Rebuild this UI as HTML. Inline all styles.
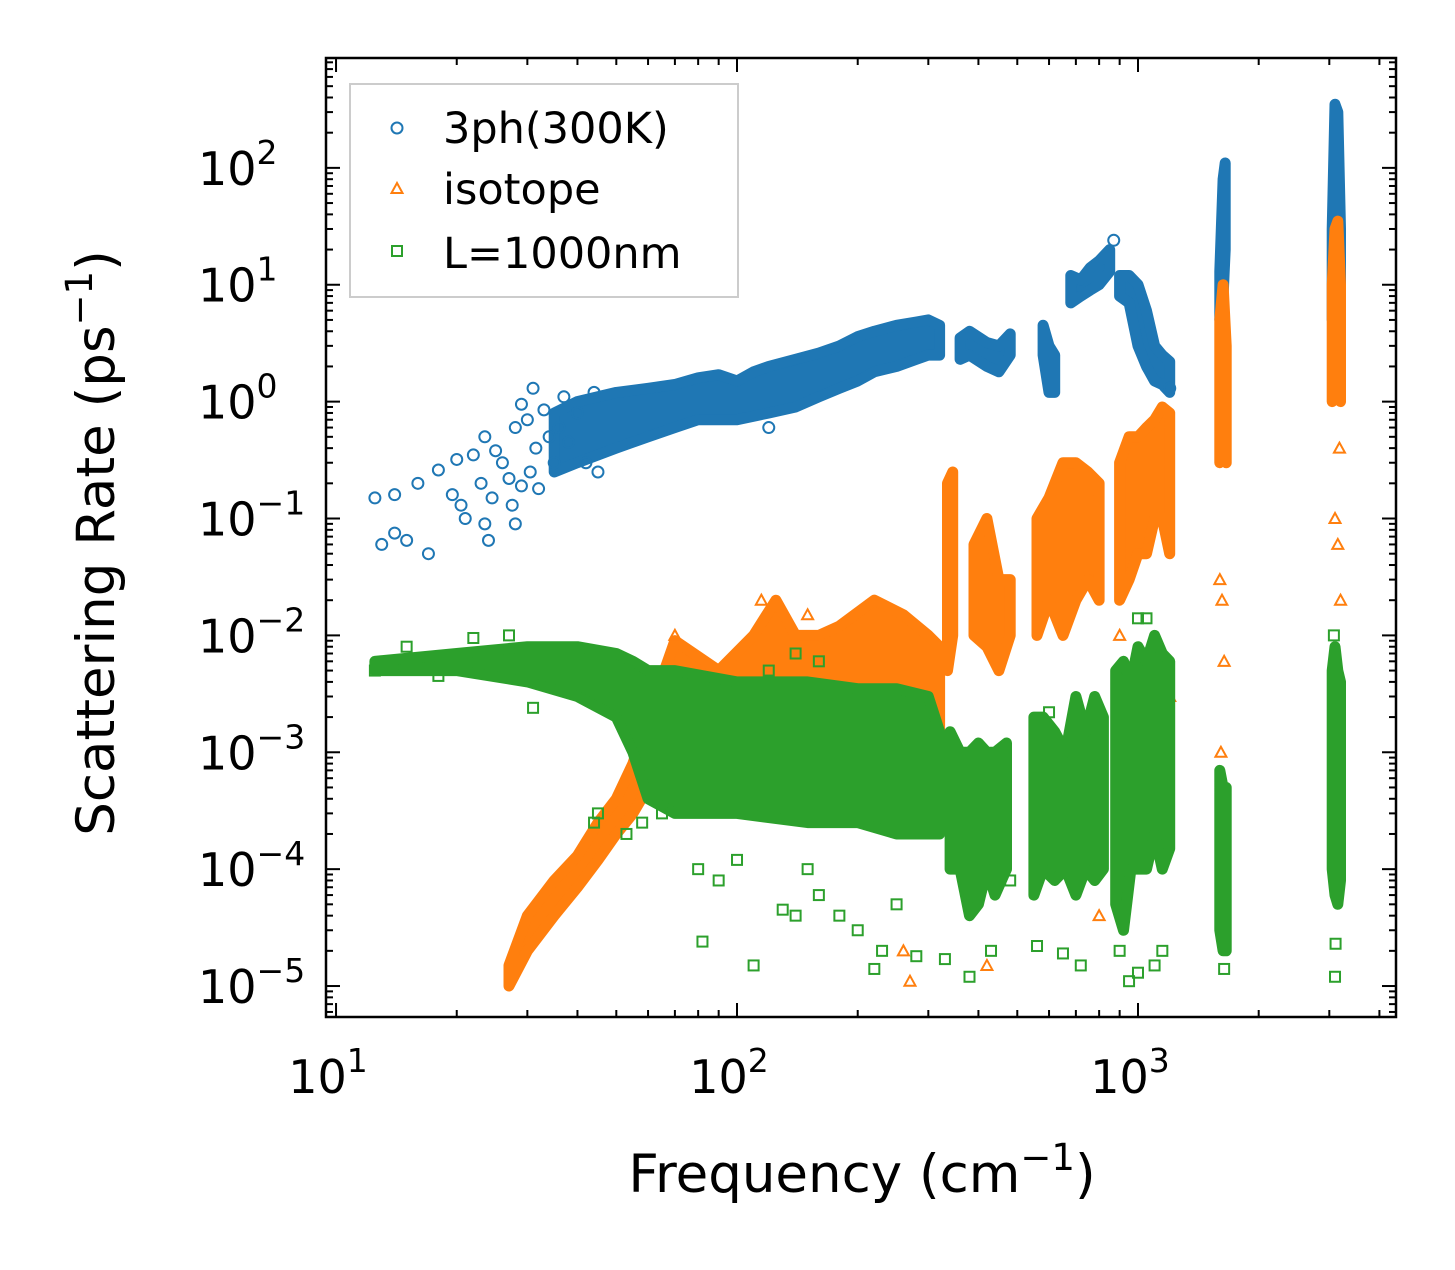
<!DOCTYPE html>
<html><head><meta charset="utf-8"><style>
body{margin:0;background:#fff;}
svg text{font-family:"DejaVu Sans","Liberation Sans",sans-serif;fill:#000;}
</style></head><body>
<svg id="chart" width="1455" height="1265" viewBox="0 0 1455 1265" xmlns="http://www.w3.org/2000/svg">
<rect width="1455" height="1265" fill="#fff"/>
<g id="series"></g>
<g id="axes"></g>
<g id="legend">
<rect x="350" y="84" width="388" height="213" fill="#fff" fill-opacity="0.8" stroke="#ccc" stroke-width="2"/>
<circle cx="397" cy="128" r="5.5" fill="none" stroke="#1f77b4" stroke-width="2"/>
<text x="443" y="143" font-size="43">3ph(300K)</text>
<polygon points="397,183 391.5,193 402.5,193" fill="none" stroke="#ff7f0e" stroke-width="2"/>
<text x="443" y="204" font-size="43">isotope</text>
<rect x="392" y="246" width="10" height="10" fill="none" stroke="#2ca02c" stroke-width="2"/>
<text x="443" y="268" font-size="43">L=1000nm</text>
</g>
</svg>
<script>
const xDomain=[Math.log10(9.44),Math.log10(4400)];
const yDomain=[-5.265,2.94];
const xTicks=[1,2,3];
const yTicks=[-5,-4,-3,-2,-1,0,1,2];
const xTickLabels=["10","10","10"];
const yTickLabels=["10","10","10","10","10","10","10","10"];

const phSegments=[
 [[35,0.25,0.8],[40,0.3,1.0],[50,0.4,1.2],[60,0.5,1.3],[70,0.6,1.4],[80,0.7,1.6],[90,0.7,1.7],[100,0.7,1.5],[110,0.75,1.8],[120,0.8,2],[140,0.9,2.3],[160,1.1,2.6],[180,1.3,3],[200,1.5,3.6],[220,1.8,4],[250,2,4.5],[280,2.3,4.8],[300,2.5,5],[320,2.5,4.5]],
 [[360,2.3,3.5],[380,2.5,4],[420,2,3.2],[450,1.8,3],[480,2.5,3.8]],
 [[580,2.5,4.5],[600,1.2,3],[620,1.2,2.5]],
 [[680,7,12],[720,8,11],[760,9,14],[800,10,16],[850,13,20]],
 [[900,8,12],[950,7,12],[1000,3,10],[1050,2,6],[1100,1.5,3],[1150,1.4,2.5],[1200,1.2,2.2]],
 [[1600,5,13],[1630,8,80],[1650,20,110]],
 [[3050,5,30],[3100,20,350],[3150,10,300],[3200,3,30]]
];
const phPoints=[[12.5,0.15],[13,0.06],[14,0.075],[14,0.16],[15,0.065],[16,0.2],[17,0.05],[18,0.26],[19.5,0.16],[20,0.32],[20.5,0.13],[21,0.1],[22,0.35],[23,0.2],[23.5,0.5],[23.5,0.09],[24,0.065],[24.5,0.15],[25,0.38],[26,0.3],[27,0.22],[27.5,0.13],[28,0.09],[28,0.6],[29,0.95],[29,0.19],[30,0.7],[30.5,0.25],[31,1.3],[31.5,0.4],[32,0.18],[33,0.85],[34,0.5],[35,0.3],[36,0.6],[37,1.1],[38,0.45],[40,0.8],[42,0.3],[44,1.2],[45,0.25],[870,24],[120,0.6],[1200,1.3]];

const isoSegments=[
 [[27,1e-5,1.5e-5],[30,2e-5,4e-5],[35,4e-5,8e-5],[40,7e-5,1.3e-4],[45,1.2e-4,2.5e-4],[50,2e-4,4e-4],[55,3e-4,8e-4],[60,5e-4,2e-3],[70,1e-3,9e-3],[90,1.5e-3,5e-3],[110,2e-3,1e-2],[125,3e-3,2e-2],[140,2e-3,1e-2],[160,2e-3,1e-2],[180,2e-3,1.2e-2],[220,2e-3,2e-2],[260,2e-3,1.5e-2],[300,1e-3,1e-2],[320,1e-3,8e-3]],
 [[335,0.005,0.2],[345,0.01,0.25]],
 [[390,0.01,0.06],[420,0.008,0.1],[450,0.005,0.03],[480,0.01,0.03]],
 [[560,0.01,0.1],[600,0.02,0.15],[650,0.01,0.3],[700,0.02,0.3],[750,0.03,0.25],[800,0.02,0.2]],
 [[900,0.02,0.3],[950,0.03,0.5],[1000,0.05,0.5],[1050,0.05,0.6],[1100,0.1,0.7],[1150,0.1,0.9],[1200,0.05,0.8]],
 [[1600,0.3,5],[1630,0.5,10],[1660,0.3,3]],
 [[3050,1,10],[3100,2,30],[3150,2,35],[3200,1,10]]
];
const isoPoints=[[1620,0.02],[1600,0.03],[1640,0.006],[1610,1e-3],[3100,0.1],[3150,0.06],[3200,0.02],[3180,0.4],[260,2e-5],[270,1.1e-5],[420,1.5e-5],[800,4e-5],[900,0.01],[115,0.02],[150,0.015],[70,0.01],[1200,0.003]];

const bdySegments=[
 [[12.5,5e-3,6e-3],[20,5e-3,7e-3],[30,4e-3,8e-3],[40,3e-3,8e-3],[50,2e-3,7e-3],[55,1e-3,6e-3],[60,4e-4,5e-3],[70,3e-4,5e-3],[100,3e-4,4e-3],[150,2.5e-4,4e-3],[200,2.5e-4,3.5e-3],[250,2e-4,3.5e-3],[300,2e-4,3e-3],[320,2e-4,1.5e-3]],
 [[340,1e-4,1.5e-3],[360,1e-4,1e-3],[380,4e-5,1e-3],[400,5e-5,1.2e-3],[420,1e-4,1e-3],[440,6e-5,1e-3],[470,1e-4,1.2e-3]],
 [[550,6e-5,2e-3],[580,1e-4,2e-3],[620,8e-5,1.5e-3],[660,1e-4,1e-3],[700,6e-5,3e-3],[740,1e-4,1.5e-3],[780,8e-5,3e-3],[820,1e-4,2e-3]],
 [[880,5e-5,5e-3],[920,3e-5,6e-3],[960,1e-4,4e-3],[1000,1e-4,8e-3],[1050,1e-4,6e-3],[1100,2e-4,1e-2],[1150,1e-4,7e-3],[1200,1.5e-4,6e-3]],
 [[1600,3e-5,7e-4],[1630,2e-5,5e-4],[1660,2e-5,5e-4]],
 [[3050,1e-4,5e-3],[3100,6e-5,8e-3],[3150,5e-5,5e-3],[3200,8e-5,4e-3]]
];
const bdyPoints=[[12.5,5e-3],[14,5.5e-3],[15,8e-3],[17,6e-3],[18,4.5e-3],[22,9.5e-3],[27,1e-2],[31,2.4e-3],[44,2.5e-4],[45,3e-4],[47,3.5e-3],[53,2e-4],[58,2.5e-4],[65,3e-4],[80,1e-4],[82,2.4e-5],[90,8e-5],[110,1.5e-5],[130,4.5e-5],[140,4e-5],[160,6e-5],[180,4e-5],[200,3e-5],[220,1.4e-5],[230,2e-5],[250,5e-5],[280,1.8e-5],[330,1.7e-5],[380,1.2e-5],[430,2e-5],[480,8e-5],[560,2.2e-5],[650,1.9e-5],[720,1.5e-5],[900,2e-5],[950,1.1e-5],[1000,1.3e-5],[1100,1.5e-5],[1150,2e-5],[1000,1.4e-2],[1050,1.4e-2],[3100,1.2e-5],[3110,2.3e-5],[3080,1e-2],[1640,1.4e-5],[600,2.2e-3],[140,7e-3],[160,6e-3],[120,5e-3],[100,1.2e-4],[150,1e-4]];

const L=326,R=1396,T=58,B=1017;
const NS="http://www.w3.org/2000/svg";
function xS(v){return L+(Math.log10(v)-xDomain[0])/(xDomain[1]-xDomain[0])*(R-L);}
function yS(v){return B-(Math.log10(v)-yDomain[0])/(yDomain[1]-yDomain[0])*(B-T);}
function xL(e){return L+(e-xDomain[0])/(xDomain[1]-xDomain[0])*(R-L);}
function yL(e){return B-(e-yDomain[0])/(yDomain[1]-yDomain[0])*(B-T);}
function mk(tag,attrs,parent){const el=document.createElementNS(NS,tag);for(const k in attrs)el.setAttribute(k,attrs[k]);parent.appendChild(el);return el;}
const gS=document.getElementById('series'),gA=document.getElementById('axes');

function drawSeries(segs,pts,color,shape,name){
 const g=mk('g',{},gS);
 
 
 segs.forEach(seg=>{
  const top=seg.map(d=>xS(d[0]).toFixed(1)+','+yS(d[2]).toFixed(1));
  const bot=seg.slice().reverse().map(d=>xS(d[0]).toFixed(1)+','+yS(d[1]).toFixed(1));
  const p=mk('polygon',{points:top.concat(bot).join(' '),fill:color,stroke:color,'stroke-width':11,'stroke-linejoin':'round'},g);
  
  
 });
 pts.forEach(d=>{
  const x=xS(d[0]),y=yS(d[1]);let m;
  if(shape==='c')m=mk('circle',{cx:x,cy:y,r:5.5,fill:'none',stroke:color,'stroke-width':2},g);
  else if(shape==='t')m=mk('polygon',{points:`${x},${y-5.5} ${x-5.5},${y+4.5} ${x+5.5},${y+4.5}`,fill:'none',stroke:color,'stroke-width':2},g);
  else m=mk('rect',{x:x-5,y:y-5,width:10,height:10,fill:'none',stroke:color,'stroke-width':2},g);
  
  
 });
}
drawSeries(phSegments,phPoints,'#1f77b4','c','3ph');
drawSeries(isoSegments,isoPoints,'#ff7f0e','t','isotope');
drawSeries(bdySegments,bdyPoints,'#2ca02c','s','boundary');

const fr=mk('rect',{x:L,y:T,width:R-L,height:B-T,fill:'none',stroke:'#000','stroke-width':2.5},gA);


for(let e=0;e<=4;e++){for(let m=1;m<=9;m++){const v=Math.log10(m)+e;if(v<xDomain[0]||v>xDomain[1])continue;const x=xL(v),len=m===1?14:7;
 mk('line',{x1:x,x2:x,y1:B,y2:B-len,stroke:'#000','stroke-width':2},gA);
 mk('line',{x1:x,x2:x,y1:T,y2:T+len,stroke:'#000','stroke-width':2},gA);}}
for(let e=-6;e<=3;e++){for(let m=1;m<=9;m++){const v=Math.log10(m)+e;if(v<yDomain[0]||v>yDomain[1])continue;const y=yL(v),len=m===1?14:7;
 mk('line',{x1:L,x2:L+len,y1:y,y2:y,stroke:'#000','stroke-width':2},gA);
 mk('line',{x1:R,x2:R-len,y1:y,y2:y,stroke:'#000','stroke-width':2},gA);}}
xTicks.forEach((e,i)=>{const t=mk('text',{x:xL(e)-8,y:1093,'font-size':46,'text-anchor':'middle'},gA);
 
 
 t.textContent=xTickLabels[i];const s=mk('tspan',{dy:-21,'font-size':33},t);s.textContent=String(e);});
yTicks.forEach((e,i)=>{const t=mk('text',{x:198,y:yL(e)+17,'font-size':46,'text-anchor':'start'},gA);
 
 
 t.textContent=yTickLabels[i];const s=mk('tspan',{dy:-21,'font-size':33},t);s.textContent=e<0?'\u2212'+(-e):String(e);});
const xt=mk('text',{x:862,y:1192,'font-size':53,'text-anchor':'middle'},gA);


xt.innerHTML='Frequency (cm<tspan dy="-22" font-size="37">\u22121</tspan><tspan dy="22">)</tspan>';
const yt=mk('text',{x:0,y:0,'font-size':53,'text-anchor':'middle',transform:'translate(114,543) rotate(-90)'},gA);


yt.innerHTML='Scattering Rate (ps<tspan dy="-22" font-size="37">\u22121</tspan><tspan dy="22">)</tspan>';
</script>
</body></html>
